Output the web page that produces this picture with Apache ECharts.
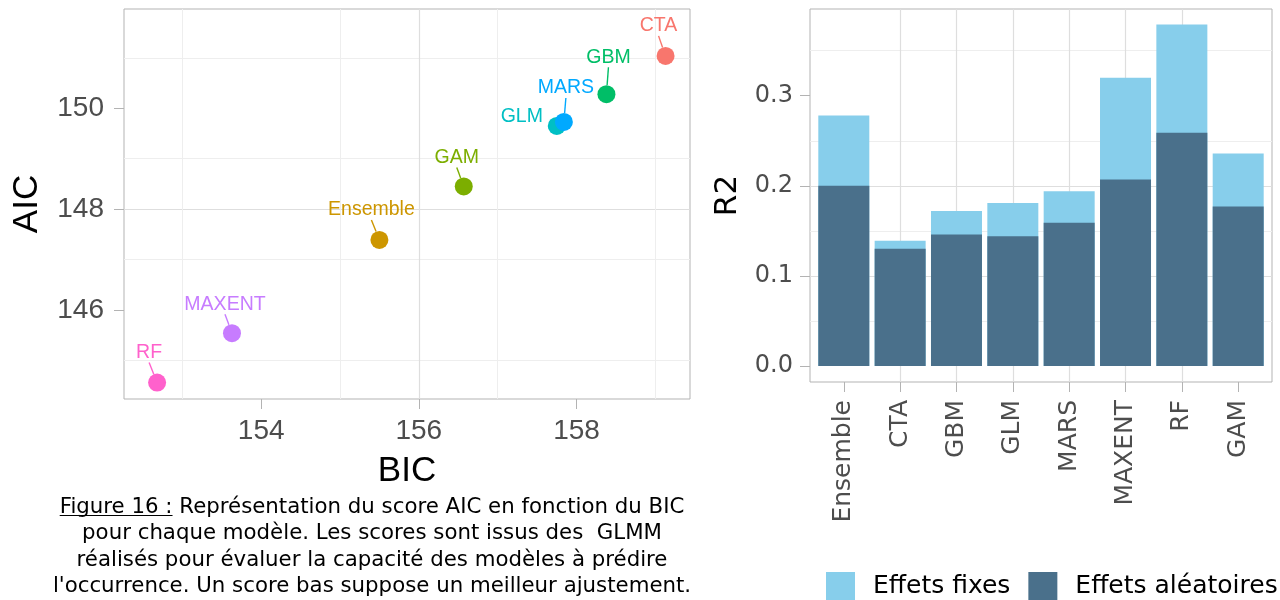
<!DOCTYPE html>
<html>
<head>
<meta charset="utf-8">
<script src="https://cdn.jsdelivr.net/npm/echarts@6/dist/echarts.min.js"></script>
<style>
html,body{margin:0;padding:0;background:#ffffff;}
#chart{width:1280px;height:600px;}
</style>
</head>
<body>
<div id="chart"></div>
<script>
// ---- Left panel: AIC vs BIC per model ----
const models = ['CTA', 'Ensemble', 'GAM', 'GBM', 'GLM', 'MARS', 'MAXENT', 'RF'];
const bicValues = [159.13, 155.50, 156.57, 158.38, 157.75, 157.84, 153.63, 152.68];
const aicValues = [151.04, 147.39, 148.45, 150.28, 149.65, 149.73, 145.54, 144.56];
const bicTicks = [154, 156, 158];
const aicTicks = [146, 148, 150];

// ---- Right panel: R2 per model ----
const barCategories = ['Ensemble', 'CTA', 'GBM', 'GLM', 'MARS', 'MAXENT', 'RF', 'GAM'];
const r2Fixed = [0.278, 0.139, 0.172, 0.181, 0.194, 0.320, 0.379, 0.236];
const r2Random = [0.200, 0.130, 0.146, 0.144, 0.159, 0.207, 0.259, 0.177];
const r2Ticks = [0, 0.1, 0.2, 0.3];
const legendNames = ['Effets fixes', 'Effets aléatoires'];

const captionLines = [
  'Représentation du score AIC en fonction du BIC',
  'pour chaque modèle. Les scores sont issus des  GLMM',
  'réalisés pour évaluer la capacité des modèles à prédire',
  "l'occurrence. Un score bas suppose un meilleur ajustement."
];
const captionLead = 'Figure 16 :';

// ---- styling (not data) ----
const modelColors = ['#F8766D', '#CD9600', '#7CAE00', '#00BE67', '#00BFC4', '#00A9FF', '#C77CFF', '#FF61CC'];
const labelNudge = [[-7, -30], [-8, -30], [-7, -29], [2, -37], [-35, -9], [2, -34], [-7, -29], [-8, -30]];
const showGuide = [true, true, true, true, false, true, true, true];
const barColors = ['#87CEEB', '#4A708B'];
const SANS = 'Liberation Sans, Arial, sans-serif';
const WIDE = 'DejaVu Sans, sans-serif';
const majorGrid = {color: '#DEDEDE', width: 1.2};
const minorGrid = {color: '#EEEEEE', width: 1};
const tickStyle = {color: '#B3B3B3', width: 1};

const chart = echarts.init(document.getElementById('chart'), null, {renderer: 'canvas'});

const scatterData = models.map((m, i) => ({
  name: m,
  value: [bicValues[i], aicValues[i]],
  itemStyle: {color: modelColors[i], opacity: 1},
  label: {color: modelColors[i]},
  labelLine: {show: showGuide[i], lineStyle: {color: modelColors[i]}}
}));

const barIdx = barCategories.map((c, i) => i);

const option = {
  animation: false,
  backgroundColor: '#ffffff',
  grid: [
    {left: 124, top: 9, width: 566, height: 390, show: true, borderColor: '#B3B3B3', borderWidth: 1, backgroundColor: '#ffffff'},
    {left: 810, top: 9, width: 462, height: 373, show: true, borderColor: '#B3B3B3', borderWidth: 1, backgroundColor: '#ffffff'}
  ],
  xAxis: [
    {
      gridIndex: 0, type: 'value', min: 152.26, max: 159.44, splitNumber: 3,
      axisLine: {show: false, onZero: false},
      axisTick: {show: true, customValues: bicTicks, length: 10, lineStyle: tickStyle},
      axisLabel: {customValues: bicTicks, margin: 18, fontSize: 28, color: '#4D4D4D', fontFamily: SANS},
      splitLine: {show: true, showMinLine: false, showMaxLine: false, lineStyle: majorGrid},
      minorTick: {show: false, splitNumber: 2},
      minorSplitLine: {show: true, lineStyle: minorGrid},
      name: 'BIC', nameLocation: 'middle', nameGap: 55,
      nameTextStyle: {fontSize: 35, color: '#000000', fontFamily: SANS}
    },
    {
      gridIndex: 1, type: 'value', min: -0.6, max: 7.6, splitNumber: 8,
      axisLine: {show: false, onZero: false},
      axisTick: {show: true, customValues: barIdx, length: 10, lineStyle: tickStyle},
      axisLabel: {customValues: barIdx, rotate: 90, margin: 18, fontSize: 25, color: '#4D4D4D', fontFamily: WIDE,
        formatter: v => barCategories[Math.round(v)]},
      splitLine: {show: true, showMinLine: false, showMaxLine: false, lineStyle: majorGrid}
    }
  ],
  yAxis: [
    {
      gridIndex: 0, type: 'value', min: 144.235, max: 151.97, splitNumber: 4,
      axisLine: {show: false, onZero: false},
      axisTick: {show: true, customValues: aicTicks, length: 10, lineStyle: tickStyle},
      axisLabel: {customValues: aicTicks, margin: 20, fontSize: 28, color: '#4D4D4D', fontFamily: SANS},
      splitLine: {show: true, showMinLine: false, showMaxLine: false, lineStyle: majorGrid},
      minorTick: {show: false, splitNumber: 2},
      minorSplitLine: {show: true, lineStyle: minorGrid},
      name: 'AIC', nameLocation: 'middle', nameRotate: 90, nameGap: 79,
      nameTextStyle: {fontSize: 35, color: '#000000', fontFamily: SANS}
    },
    {
      gridIndex: 1, type: 'value', min: -0.0178, max: 0.3963, splitNumber: 4,
      axisLine: {show: false, onZero: false},
      axisTick: {show: true, customValues: r2Ticks, length: 10, lineStyle: tickStyle},
      axisLabel: {customValues: r2Ticks, margin: 17, fontSize: 24, color: '#4D4D4D', fontFamily: WIDE,
        formatter: v => v.toFixed(1)},
      splitLine: {show: true, showMinLine: false, showMaxLine: false, lineStyle: majorGrid},
      minorTick: {show: false, splitNumber: 2},
      minorSplitLine: {show: true, lineStyle: minorGrid},
      name: 'R2', nameLocation: 'middle', nameRotate: 90, nameGap: 67,
      nameTextStyle: {fontSize: 31, color: '#000000', fontFamily: WIDE}
    }
  ],
  legend: {
    data: legendNames,
    left: 826, top: 572, padding: 0, orient: 'horizontal',
    icon: 'rect', itemWidth: 29, itemHeight: 29, itemGap: 18,
    textStyle: {fontSize: 25, color: '#000000', fontFamily: WIDE, padding: [0, 0, 0, 13]},
    selectedMode: false
  },
  graphic: [{
    type: 'text', x: 372, y: 494,
    style: {
      text: '{u|' + captionLead + '} ' + captionLines.join('\n'),
      align: 'center', verticalAlign: 'top',
      fontSize: 21.3, lineHeight: 26.5, fontFamily: WIDE, fill: '#000000',
      rich: {
        u: {
          fontSize: 21.3, lineHeight: 26.5, fontFamily: WIDE, fill: '#000000',
          backgroundColor: {
            type: 'linear', x: 0, y: 0, x2: 0, y2: 1,
            colorStops: [
              {offset: 0, color: 'rgba(0,0,0,0)'},
              {offset: 0.87, color: 'rgba(0,0,0,0)'},
              {offset: 0.87, color: '#000000'},
              {offset: 0.92, color: '#000000'},
              {offset: 0.92, color: 'rgba(0,0,0,0)'},
              {offset: 1, color: 'rgba(0,0,0,0)'}
            ]
          }
        }
      }
    }
  }],
  series: [
    {
      type: 'scatter', xAxisIndex: 0, yAxisIndex: 0,
      symbol: 'circle', symbolSize: 18,
      data: scatterData,
      itemStyle: {opacity: 1},
      label: {show: true, position: 'inside', formatter: '{b}', fontSize: 19.5, fontFamily: SANS, textBorderWidth: 0},
      labelLine: {show: true, lineStyle: {width: 1.4}},
      labelLayout: p => ({dx: labelNudge[p.dataIndex][0], dy: labelNudge[p.dataIndex][1]}),
      emphasis: {disabled: true}
    },
    {
      type: 'bar', name: legendNames[0], xAxisIndex: 1, yAxisIndex: 1,
      data: r2Fixed.map((v, i) => [i, v]),
      barWidth: 51, itemStyle: {color: barColors[0]},
      emphasis: {disabled: true}
    },
    {
      type: 'bar', name: legendNames[1], xAxisIndex: 1, yAxisIndex: 1,
      data: r2Random.map((v, i) => [i, v]),
      barWidth: 51, barGap: '-100%', itemStyle: {color: barColors[1]},
      emphasis: {disabled: true}
    }
  ]
};
chart.setOption(option);
</script>
</body>
</html>
